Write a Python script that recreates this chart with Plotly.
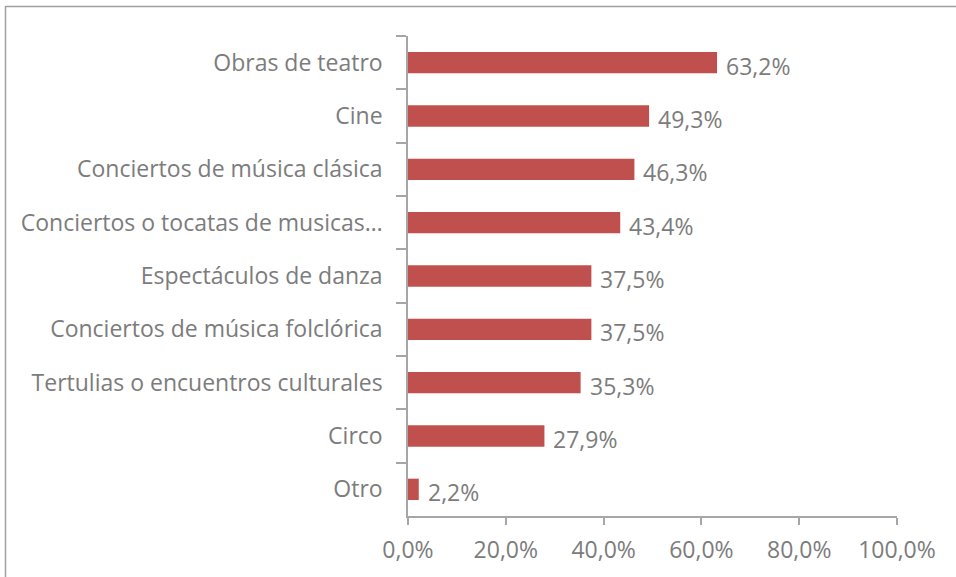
import plotly.graph_objects as go

categories = [
    "Obras de teatro",
    "Cine",
    "Conciertos de música clásica",
    "Conciertos o tocatas de musicas…",
    "Espectáculos de danza",
    "Conciertos de música folclórica",
    "Tertulias o encuentros culturales",
    "Circo",
    "Otro",
]
values = [0.632, 0.493, 0.463, 0.434, 0.375, 0.375, 0.353, 0.279, 0.022]
value_labels = ["63,2%", "49,3%", "46,3%", "43,4%", "37,5%", "37,5%", "35,3%", "27,9%", "2,2%"]
x_ticks = [0, 0.2, 0.4, 0.6, 0.8, 1.0]

TEXT = "#7c7c7c"
AXIS = "#a6a6a6"
FONT = "Open Sans"
FS = 23

fig = go.Figure()
fig.add_trace(go.Bar(
    y=categories, x=values, orientation="h",
    marker=dict(color="#C0504D", line=dict(width=0)),
    width=0.4, hoverinfo="skip",
))

for c, v, t in zip(categories, values, value_labels):
    fig.add_annotation(x=v, y=c, text=t, showarrow=False, xanchor="left",
                       xshift=7, yshift=-3,
                       font=dict(family=FONT, size=FS, color=TEXT))

L, T = 408, 36
W, H = 956, 577
pw, ph = 897 - L, 516 - T
fig.add_shape(type="rect", xref="paper", yref="paper",
              x0=(5.5 - L) / pw, x1=2.0,
              y0=-2.0, y1=1 + (T - 6.5) / ph,
              line=dict(color="#a0a0a0", width=1.5), fillcolor="rgba(0,0,0,0)")

fig.update_layout(
    width=W, height=H, autosize=False,
    margin=dict(l=L, r=W - 897, t=T, b=H - 516),
    paper_bgcolor="white", plot_bgcolor="white",
    separators=",.",
    showlegend=False,
    font=dict(family=FONT, color=TEXT, size=FS),
    xaxis=dict(range=[0, 1], tickvals=x_ticks, tickformat=".1%",
               showgrid=False, zeroline=False,
               showline=True, linecolor=AXIS, linewidth=1.5,
               ticks="outside", ticklen=7, tickcolor=AXIS, tickwidth=1.5,
               ticklabelstandoff=6,
               tickfont=dict(family=FONT, size=FS, color=TEXT)),
    yaxis=dict(autorange="reversed", type="category",
               showgrid=False, zeroline=False,
               showline=True, linecolor=AXIS, linewidth=1.5,
               ticks="outside", ticklen=10, tickcolor=AXIS, tickwidth=1.5,
               tickson="boundaries", ticklabelstandoff=19,
               tickfont=dict(family=FONT, size=FS, color=TEXT)),
)

fig.write_html("out.html", config={"displayModeBar": False},
               post_script="document.body.style.margin='0';document.body.style.overflow='hidden';")
